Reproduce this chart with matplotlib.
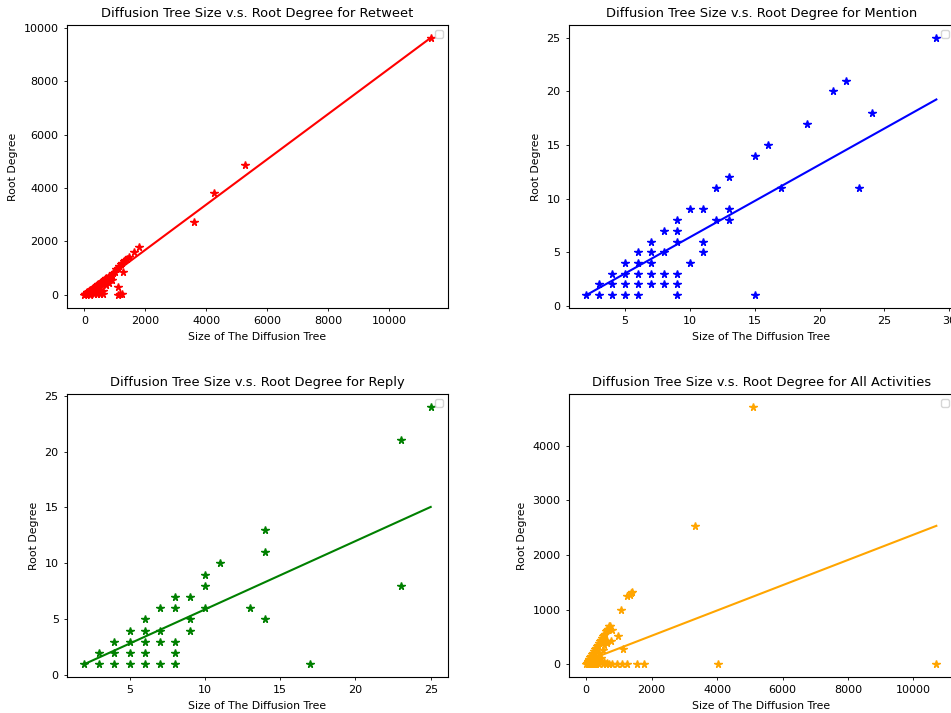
import matplotlib
matplotlib.use('Agg')
from matplotlib import pyplot as plt

# retweet: (tree size, root degree)
retweet_x = [0, 10, 25, 40, 60, 80, 100, 120, 150, 180, 200, 230, 260, 290, 320,
             350, 380, 420, 450, 480, 520, 560, 600, 640, 680, 720, 760, 800, 850,
             900, 950, 1000, 1050, 1100, 1150, 1200, 1250, 1300, 1350, 1400, 1450,
             1620, 1780,
             100, 150, 200, 250, 300, 350, 400, 450, 500, 550, 600, 620, 700, 750,
             800, 850, 900, 1100, 1180, 1250, 1100, 1280, 200, 300, 400, 500,
             3590, 4260, 5270, 11370]
retweet_y = [0, 5, 15, 30, 40, 60, 80, 95, 120, 150, 170, 190, 210, 240, 260,
             290, 320, 350, 380, 400, 440, 470, 510, 540, 570, 610, 640, 680, 700,
             750, 800, 850, 950, 1000, 1080, 1150, 1200, 1250, 1300, 1350, 1400,
             1600, 1790,
             20, 50, 60, 100, 120, 150, 200, 250, 300, 80, 30, 150, 350, 500,
             450, 600, 550, 0, 30, 10, 300, 850, 0, 10, 40, 20,
             2720, 3800, 4840, 9625]
retweet_fit_x = [0, 11370]
retweet_fit_y = [-20, 9625]

# mention
mention_x = [2, 3, 3, 4, 4, 4, 5, 5, 5, 5, 6, 6, 6, 6, 6, 7, 7, 7, 7, 7,
             8, 8, 8, 8, 9, 9, 9, 9, 9, 9, 10, 10, 11, 11, 11, 12, 12,
             13, 13, 13, 15, 15, 16, 17, 19, 21, 22, 23, 24, 29]
mention_y = [1, 1, 2, 1, 2, 3, 1, 2, 3, 4, 1, 2, 3, 4, 5, 2, 3, 4, 5, 6,
             2, 3, 5, 7, 1, 2, 3, 6, 7, 8, 4, 9, 5, 6, 9, 8, 11,
             8, 9, 12, 1, 14, 15, 11, 17, 20, 21, 11, 18, 25]
mention_fit_x = [2, 29]
mention_fit_y = [1.0, 19.25]

# reply
reply_x = [2, 3, 3, 4, 4, 4, 5, 5, 5, 5, 6, 6, 6, 6, 6, 7, 7, 7, 7,
           8, 8, 8, 8, 8, 9, 9, 9, 10, 10, 10, 11, 13, 14, 14, 14,
           17, 23, 23, 25]
reply_y = [1, 1, 2, 1, 2, 3, 1, 2, 3, 4, 1, 2, 3, 4, 5, 1, 3, 4, 6,
           1, 2, 3, 6, 7, 4, 5, 7, 6, 8, 9, 10, 6, 5, 11, 13,
           1, 8, 21, 24]
reply_fit_x = [2, 25]
reply_fit_y = [1.0, 15.05]

# all activities
all_x = [0, 20, 40, 60, 80, 100, 130, 160, 190, 220, 250, 280, 310, 340, 370,
         400, 430, 460, 490, 520, 550, 580, 610, 640, 670, 700, 720,
         100, 150, 200, 250, 300, 350, 400, 450, 200, 300, 400, 500, 600, 700,
         800, 100, 50, 150, 250, 350, 450, 550, 650, 500, 550, 600, 650, 750,
         640, 790, 700,
         950, 1100, 1250, 1560, 1770, 1050, 970, 1110, 1260, 1330, 1360, 1390,
         3310, 4020, 5090, 10700]
all_y = [0, 18, 38, 55, 75, 95, 125, 150, 180, 210, 240, 270, 300, 330, 355,
         390, 420, 450, 480, 510, 540, 560, 600, 620, 650, 690, 700,
         30, 60, 100, 50, 150, 80, 200, 120, 0, 0, 0, 0, 0, 0,
         0, 0, 0, 10, 5, 20, 40, 30, 20, 250, 350, 420, 380, 420,
         420, 630, 650,
         0, 0, 0, 0, 0, 1000, 510, 285, 1240, 1270, 1300, 1330,
         2540, 0, 4717, 0]
all_fit_x = [0, 10700]
all_fit_y = [57, 2535]


def plot_panel(ax, x, y, fit_x, fit_y, color, title):
    ax.plot(x, y, '*', color=color, markersize=5.5)
    ax.plot(fit_x, fit_y, '-', color=color, linewidth=1.5)
    ax.set_title(title, fontsize=9.4)
    ax.set_xlabel('Size of The Diffusion Tree', fontsize=7.8)
    ax.set_ylabel('Root Degree', fontsize=7.8)
    ax.tick_params(labelsize=8, length=2.5, width=0.6)
    ax.legend(handles=[], loc='upper right', fontsize=7)


fig = plt.figure(figsize=(9.51, 7.13), dpi=100)
ax1 = fig.add_axes([0.0705, 0.568, 0.4006, 0.397])
ax2 = fig.add_axes([0.598, 0.568, 0.405, 0.397])
ax3 = fig.add_axes([0.0705, 0.0505, 0.4006, 0.397])
ax4 = fig.add_axes([0.598, 0.0505, 0.405, 0.397])

plot_panel(ax1, retweet_x, retweet_y, retweet_fit_x, retweet_fit_y, 'red',
           'Diffusion Tree Size v.s. Root Degree for Retweet')
plot_panel(ax2, mention_x, mention_y, mention_fit_x, mention_fit_y, 'blue',
           'Diffusion Tree Size v.s. Root Degree for Mention')
plot_panel(ax3, reply_x, reply_y, reply_fit_x, reply_fit_y, 'green',
           'Diffusion Tree Size v.s. Root Degree for Reply')
plot_panel(ax4, all_x, all_y, all_fit_x, all_fit_y, 'orange',
           'Diffusion Tree Size v.s. Root Degree for All Activities')

fig.savefig('out.png', dpi=100)
